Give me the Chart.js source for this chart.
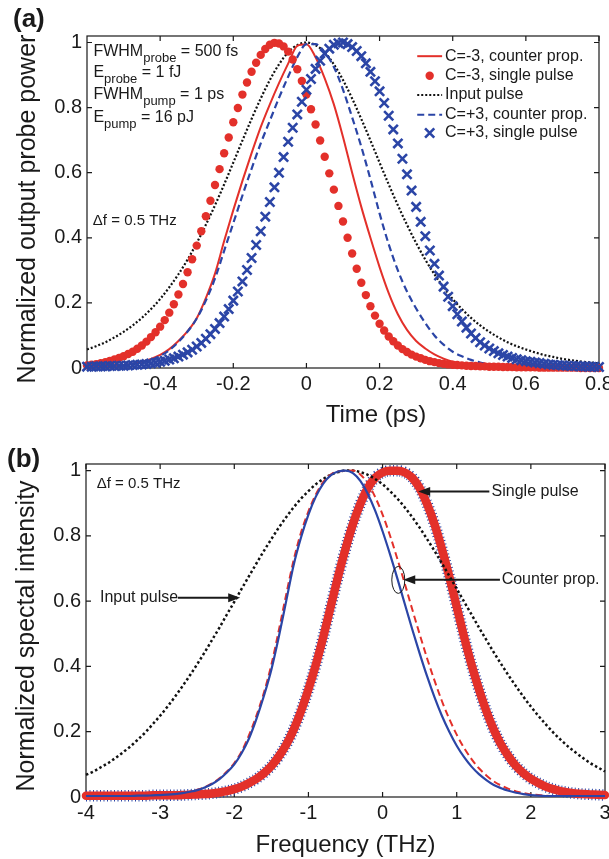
<!DOCTYPE html>
<html lang="en">
<head>
<meta charset="UTF-8">
<title>Probe power and spectra</title>
<script src="https://cdn.jsdelivr.net/npm/chart.js"></script>
<style>
  html, body { margin: 0; padding: 0; background: #fff; overflow: hidden; width: 609px; height: 859px; }
  canvas { position: absolute; left: 0; }
  #chartA { top: 0; }
  #chartB { top: 430px; }
</style>
</head>
<body>
<canvas id="chartA" width="640" height="430"></canvas>
<canvas id="chartB" width="640" height="429"></canvas>
<script>
const FONT = '"Liberation Sans", Arial, Helvetica, sans-serif';
const RED = '#e3302a';
const BLUE = '#2b45a6';
const INK = '#1a1a1a';
Chart.defaults.font.family = FONT;

// ---- panel (a): time in ps ----
const timeTicks = [-0.4, -0.2, 0, 0.2, 0.4, 0.6, 0.8];
const powerTicks = [0, 0.2, 0.4, 0.6, 0.8, 1];

const tLine = [
  -0.6, -0.575, -0.55, -0.525, -0.5, -0.475, -0.45, -0.425,
  -0.4, -0.375, -0.35, -0.325, -0.3, -0.275, -0.25, -0.225,
  -0.2, -0.175, -0.15, -0.125, -0.1, -0.075, -0.05, -0.025,
  0, 0.025, 0.05, 0.075, 0.1, 0.125, 0.15, 0.175,
  0.2, 0.225, 0.25, 0.275, 0.3, 0.325, 0.35, 0.375,
  0.4, 0.425, 0.45, 0.475, 0.5, 0.525, 0.55, 0.575,
  0.6, 0.625, 0.65, 0.675, 0.7, 0.725, 0.75, 0.775, 0.8
];
const inputA = [
  0.057, 0.067, 0.079, 0.094, 0.111, 0.131, 0.154, 0.181,
  0.212, 0.248, 0.288, 0.333, 0.384, 0.440, 0.500, 0.564,
  0.631, 0.699, 0.765, 0.828, 0.885, 0.933, 0.970, 0.992,
  1.000, 0.992, 0.970, 0.933, 0.885, 0.828, 0.765, 0.699,
  0.631, 0.564, 0.500, 0.440, 0.384, 0.333, 0.288, 0.248,
  0.212, 0.181, 0.154, 0.131, 0.111, 0.094, 0.079, 0.067,
  0.057, 0.048, 0.040, 0.034, 0.028, 0.024, 0.020, 0.017, 0.014
];
const redCounterA = [
  0.002, 0.003, 0.004, 0.006, 0.009, 0.013, 0.019, 0.028,
  0.040, 0.058, 0.083, 0.113, 0.153, 0.215, 0.290, 0.390,
  0.485, 0.575, 0.660, 0.740, 0.810, 0.875, 0.935, 0.990,
  0.995, 0.955, 0.890, 0.810, 0.710, 0.600, 0.495, 0.400,
  0.310, 0.230, 0.165, 0.117, 0.083, 0.060, 0.042, 0.029,
  0.019, 0.013, 0.009, 0.006, 0.005, 0.004, 0.003, 0.002,
  0.002, 0.001, 0.001, 0.001, 0, 0, 0, 0, 0
];
const blueCounterA = [
  0.002, 0.003, 0.004, 0.006, 0.008, 0.012, 0.017, 0.025,
  0.037, 0.055, 0.080, 0.112, 0.152, 0.207, 0.275, 0.360,
  0.445, 0.530, 0.612, 0.690, 0.760, 0.830, 0.895, 0.955,
  0.995, 0.995, 0.970, 0.925, 0.855, 0.770, 0.680, 0.580,
  0.475, 0.380, 0.300, 0.235, 0.183, 0.138, 0.100, 0.072,
  0.050, 0.036, 0.025, 0.017, 0.012, 0.009, 0.006, 0.004,
  0.003, 0.002, 0.002, 0.001, 0.001, 0.001, 0, 0, 0
];

const tMark = [
  -0.6, -0.5875, -0.575, -0.5625, -0.55, -0.5375, -0.525, -0.5125,
  -0.5, -0.4875, -0.475, -0.4625, -0.45, -0.4375, -0.425, -0.4125,
  -0.4, -0.3875, -0.375, -0.3625, -0.35, -0.3375, -0.325, -0.3125,
  -0.3, -0.2875, -0.275, -0.2625, -0.25, -0.2375, -0.225, -0.2125,
  -0.2, -0.1875, -0.175, -0.1625, -0.15, -0.1375, -0.125, -0.1125,
  -0.1, -0.0875, -0.075, -0.0625, -0.05, -0.0375, -0.025, -0.0125,
  0, 0.0125, 0.025, 0.0375, 0.05, 0.0625, 0.075, 0.0875,
  0.1, 0.1125, 0.125, 0.1375, 0.15, 0.1625, 0.175, 0.1875,
  0.2, 0.2125, 0.225, 0.2375, 0.25, 0.2625, 0.275, 0.2875,
  0.3, 0.3125, 0.325, 0.3375, 0.35, 0.3625, 0.375, 0.3875,
  0.4, 0.4125, 0.425, 0.4375, 0.45, 0.4625, 0.475, 0.4875,
  0.5, 0.5125, 0.525, 0.5375, 0.55, 0.5625, 0.575, 0.5875,
  0.6, 0.6125, 0.625, 0.6375, 0.65, 0.6625, 0.675, 0.6875,
  0.7, 0.7125, 0.725, 0.7375, 0.75, 0.7625, 0.775, 0.7875,
  0.8
];
const redSingleA = [
  0.008, 0.010, 0.012, 0.015, 0.018, 0.022, 0.026, 0.031,
  0.036, 0.043, 0.050, 0.059, 0.069, 0.081, 0.095, 0.110,
  0.127, 0.147, 0.170, 0.196, 0.226, 0.258, 0.294, 0.334,
  0.376, 0.420, 0.466, 0.514, 0.562, 0.611, 0.660, 0.708,
  0.755, 0.799, 0.840, 0.877, 0.910, 0.938, 0.962, 0.980,
  0.993, 0.999, 0.997, 0.988, 0.972, 0.948, 0.918, 0.882,
  0.840, 0.795, 0.748, 0.699, 0.649, 0.598, 0.548, 0.498,
  0.450, 0.400, 0.352, 0.305, 0.262, 0.224, 0.190, 0.161,
  0.136, 0.115, 0.097, 0.082, 0.069, 0.058, 0.049, 0.041,
  0.035, 0.030, 0.025, 0.021, 0.018, 0.015, 0.013, 0.011,
  0.010, 0.009, 0.008, 0.007, 0.006, 0.006, 0.005, 0.005,
  0.004, 0.004, 0.004, 0.003, 0.003, 0.003, 0.002, 0.002,
  0.002, 0.002, 0.002, 0.001, 0.001, 0.001, 0.001, 0.001,
  0.001, 0.001, 0.001, 0.001, 0, 0, 0, 0,
  0
];
const blueSingleA = [
  0.004, 0.004, 0.005, 0.005, 0.005, 0.006, 0.006, 0.007,
  0.007, 0.008, 0.009, 0.010, 0.011, 0.012, 0.014, 0.016,
  0.019, 0.022, 0.026, 0.030, 0.035, 0.041, 0.048, 0.056,
  0.066, 0.077, 0.090, 0.104, 0.120, 0.138, 0.158, 0.181,
  0.207, 0.235, 0.266, 0.301, 0.338, 0.378, 0.420, 0.465,
  0.510, 0.555, 0.600, 0.648, 0.695, 0.738, 0.779, 0.818,
  0.855, 0.888, 0.919, 0.944, 0.966, 0.981, 0.993, 0.998,
  1.000, 0.995, 0.986, 0.974, 0.958, 0.936, 0.910, 0.881,
  0.850, 0.814, 0.775, 0.733, 0.690, 0.643, 0.595, 0.545,
  0.495, 0.449, 0.405, 0.361, 0.320, 0.284, 0.250, 0.219,
  0.190, 0.165, 0.143, 0.124, 0.106, 0.092, 0.079, 0.069,
  0.060, 0.052, 0.045, 0.040, 0.035, 0.031, 0.027, 0.024,
  0.021, 0.019, 0.017, 0.015, 0.013, 0.011, 0.010, 0.009,
  0.008, 0.007, 0.006, 0.006, 0.005, 0.005, 0.004, 0.004,
  0.003
];

// ---- panel (b): frequency in THz ----
const freqTicks = [-4, -3, -2, -1, 0, 1, 2, 3];
const fGrid = [
  -4, -3.9, -3.8, -3.7, -3.6, -3.5, -3.4, -3.3, -3.2, -3.1,
  -3, -2.9, -2.8, -2.7, -2.6, -2.5, -2.4, -2.3, -2.2, -2.1,
  -2, -1.9, -1.8, -1.7, -1.6, -1.5, -1.4, -1.3, -1.2, -1.1,
  -1, -0.9, -0.8, -0.7, -0.6, -0.5, -0.4, -0.3, -0.2, -0.1,
  0, 0.1, 0.2, 0.3, 0.4, 0.5, 0.6, 0.7, 0.8, 0.9,
  1, 1.1, 1.2, 1.3, 1.4, 1.5, 1.6, 1.7, 1.8, 1.9,
  2, 2.1, 2.2, 2.3, 2.4, 2.5, 2.6, 2.7, 2.8, 2.9,
  3
];
const inputB = [
  0.068, 0.078, 0.091, 0.104, 0.120, 0.137, 0.155, 0.176, 0.198, 0.223,
  0.249, 0.277, 0.307, 0.339, 0.372, 0.407, 0.443, 0.481, 0.519, 0.559,
  0.598, 0.638, 0.677, 0.716, 0.754, 0.790, 0.825, 0.857, 0.887, 0.914,
  0.937, 0.958, 0.974, 0.987, 0.995, 1.000, 1.000, 0.995, 0.987, 0.974,
  0.958, 0.937, 0.914, 0.887, 0.857, 0.825, 0.790, 0.754, 0.716, 0.677,
  0.638, 0.598, 0.559, 0.519, 0.481, 0.443, 0.407, 0.372, 0.339, 0.307,
  0.277, 0.249, 0.223, 0.198, 0.176, 0.155, 0.137, 0.120, 0.104, 0.091,
  0.078
];
const counterBlueB = [
  0.003, 0.003, 0.003, 0.003, 0.003, 0.003, 0.003, 0.004, 0.004, 0.005,
  0.006, 0.007, 0.009, 0.012, 0.016, 0.021, 0.029, 0.040, 0.055, 0.075,
  0.100, 0.135, 0.180, 0.240, 0.310, 0.390, 0.490, 0.600, 0.710, 0.795,
  0.865, 0.920, 0.960, 0.985, 0.997, 1.000, 0.992, 0.968, 0.929, 0.877,
  0.814, 0.744, 0.669, 0.591, 0.514, 0.440, 0.370, 0.306, 0.249, 0.200,
  0.157, 0.122, 0.093, 0.070, 0.052, 0.037, 0.027, 0.019, 0.013, 0.009,
  0.006, 0.004, 0.003, 0.003, 0.003, 0.003, 0.003, 0.003, 0.003, 0.003,
  0.003
];
const counterRedB = [
  0.003, 0.003, 0.003, 0.003, 0.003, 0.003, 0.003, 0.004, 0.004, 0.005,
  0.006, 0.007, 0.009, 0.012, 0.016, 0.022, 0.030, 0.042, 0.057, 0.078,
  0.104, 0.140, 0.190, 0.250, 0.320, 0.405, 0.510, 0.620, 0.725, 0.810,
  0.875, 0.927, 0.965, 0.988, 0.998, 0.999, 1.000, 0.988, 0.961, 0.919,
  0.865, 0.801, 0.729, 0.653, 0.575, 0.499, 0.425, 0.357, 0.294, 0.239,
  0.191, 0.150, 0.116, 0.088, 0.066, 0.048, 0.035, 0.025, 0.017, 0.012,
  0.008, 0.006, 0.004, 0.003, 0.003, 0.003, 0.003, 0.003, 0.003, 0.003,
  0.003
];
const singleB = [
  0.004, 0.004, 0.004, 0.004, 0.004, 0.004, 0.004, 0.004, 0.004, 0.005,
  0.005, 0.005, 0.005, 0.006, 0.007, 0.008, 0.009, 0.011, 0.014, 0.018,
  0.024, 0.032, 0.043, 0.056, 0.073, 0.095, 0.124, 0.160, 0.206, 0.263,
  0.330, 0.405, 0.490, 0.583, 0.675, 0.760, 0.836, 0.898, 0.946, 0.978,
  0.994, 0.999, 0.999, 0.994, 0.978, 0.946, 0.898, 0.836, 0.760, 0.675,
  0.583, 0.490, 0.405, 0.330, 0.263, 0.206, 0.160, 0.124, 0.095, 0.073,
  0.056, 0.043, 0.032, 0.024, 0.018, 0.014, 0.011, 0.009, 0.008, 0.007,
  0.006
];

// ---- text placed in data units ----
const paramLines = [
  [['FWHM'], ['probe', true], [' = 500 fs']],
  [['E'], ['probe', true], [' = 1 fJ']],
  [['FWHM'], ['pump', true], [' = 1 ps']],
  [['E'], ['pump', true], [' = 16 pJ']]
];
const paramX = -0.5825;
const paramY = [0.96, 0.893, 0.825, 0.757];
const legendA = ['C=-3, counter prop.', 'C=-3, single pulse', 'Input pulse', 'C=+3, counter prop.', 'C=+3, single pulse'];
const legendRows = [0.958, 0.898, 0.839, 0.778, 0.722];

const pts = (xs, ys) => xs.map((x, i) => ({ x, y: ys[i] }));

function subText(ctx, x, y, parts) {
  parts.forEach(([s, sub]) => {
    ctx.font = (sub ? '13px ' : '16px ') + FONT;
    ctx.fillText(s, x, sub ? y + 6 : y);
    x += ctx.measureText(s).width;
  });
}

function arrow(ctx, x1, y, x2) {
  const dir = Math.sign(x2 - x1);
  ctx.lineWidth = 2;
  ctx.setLineDash([]);
  ctx.beginPath();
  ctx.moveTo(x1, y);
  ctx.lineTo(x2 - dir * 9, y);
  ctx.stroke();
  ctx.beginPath();
  ctx.moveTo(x2, y);
  ctx.lineTo(x2 - dir * 12, y - 4.5);
  ctx.lineTo(x2 - dir * 12, y + 4.5);
  ctx.closePath();
  ctx.fill();
}

function rotatedTitle(ctx, text, x, y) {
  ctx.save();
  ctx.translate(x, y);
  ctx.rotate(-Math.PI / 2);
  ctx.textAlign = 'center';
  ctx.fillText(text, 0, 0);
  ctx.restore();
}

// matlab style box with inward ticks on all four sides
const boxPlugin = {
  id: 'box',
  beforeDatasetsDraw(chart) {
    const { ctx, chartArea: a, scales: { x, y } } = chart;
    ctx.save();
    ctx.strokeStyle = INK;
    ctx.lineWidth = 1.2;
    ctx.strokeRect(a.left, a.top, a.right - a.left, a.bottom - a.top);
    ctx.beginPath();
    x.ticks.forEach(t => {
      const px = x.getPixelForValue(t.value);
      ctx.moveTo(px, a.bottom); ctx.lineTo(px, a.bottom - 5);
      ctx.moveTo(px, a.top); ctx.lineTo(px, a.top + 5);
    });
    y.ticks.forEach(t => {
      const py = y.getPixelForValue(t.value);
      ctx.moveTo(a.left, py); ctx.lineTo(a.left + 5, py);
      ctx.moveTo(a.right, py); ctx.lineTo(a.right - 5, py);
    });
    ctx.stroke();
    ctx.restore();
  }
};

const decorA = {
  id: 'decorA',
  afterDraw(chart) {
    const { ctx, scales: { x, y } } = chart;
    ctx.save();
    ctx.fillStyle = INK;
    ctx.strokeStyle = INK;
    ctx.textBaseline = 'alphabetic';
    ctx.font = 'bold 26px ' + FONT;
    ctx.fillText('(a)', 13, 27);

    ctx.font = '24px ' + FONT;
    ctx.textAlign = 'center';
    ctx.fillText('Time (ps)', x.getPixelForValue(0.19), 422);
    ctx.font = '25px ' + FONT;
    rotatedTitle(ctx, 'Normalized output probe power', 35, 209);

    ctx.textAlign = 'left';
    paramLines.forEach((parts, i) => subText(ctx, x.getPixelForValue(paramX), y.getPixelForValue(paramY[i]), parts));
    ctx.font = '15px ' + FONT;
    ctx.fillText('\u0394f = 0.5 THz', x.getPixelForValue(-0.584), y.getPixelForValue(0.439));

    // legend
    const x0 = x.getPixelForValue(0.303), x1 = x.getPixelForValue(0.371), xt = x.getPixelForValue(0.379);
    const xm = (x0 + x1) / 2;
    const ry = legendRows.map(v => y.getPixelForValue(v));
    ctx.lineWidth = 2;
    ctx.strokeStyle = RED;
    ctx.beginPath(); ctx.moveTo(x0, ry[0]); ctx.lineTo(x1, ry[0]); ctx.stroke();
    ctx.fillStyle = RED;
    ctx.beginPath(); ctx.arc(xm, ry[1], 4.2, 0, Math.PI * 2); ctx.fill();
    ctx.strokeStyle = '#111';
    ctx.setLineDash([2, 2]);
    ctx.beginPath(); ctx.moveTo(x0, ry[2]); ctx.lineTo(x1, ry[2]); ctx.stroke();
    ctx.strokeStyle = BLUE;
    ctx.setLineDash([7, 4]);
    ctx.beginPath(); ctx.moveTo(x0, ry[3]); ctx.lineTo(x1, ry[3]); ctx.stroke();
    ctx.setLineDash([]);
    ctx.lineWidth = 2.6;
    const h = 4.6;
    ctx.beginPath();
    ctx.moveTo(xm - h, ry[4] - h); ctx.lineTo(xm + h, ry[4] + h);
    ctx.moveTo(xm + h, ry[4] - h); ctx.lineTo(xm - h, ry[4] + h);
    ctx.stroke();
    ctx.fillStyle = INK;
    ctx.font = '16px ' + FONT;
    ctx.textBaseline = 'middle';
    legendA.forEach((s, i) => ctx.fillText(s, xt, ry[i]));
    ctx.restore();
  }
};

const decorB = {
  id: 'decorB',
  afterDraw(chart) {
    const { ctx, chartArea: a, scales: { x, y } } = chart;
    ctx.save();
    ctx.fillStyle = INK;
    ctx.strokeStyle = INK;
    ctx.textBaseline = 'alphabetic';
    ctx.font = 'bold 26px ' + FONT;
    ctx.fillText('(b)', 7, 37);

    ctx.font = '24px ' + FONT;
    ctx.textAlign = 'center';
    ctx.fillText('Frequency (THz)', (a.left + a.right) / 2, 422);
    ctx.font = '25px ' + FONT;
    rotatedTitle(ctx, 'Normalized spectal intensity', 34, 206);

    ctx.textAlign = 'left';
    ctx.font = '15px ' + FONT;
    ctx.fillText('\u0394f = 0.5 THz', x.getPixelForValue(-3.856), y.getPixelForValue(0.948));

    ctx.font = '16px ' + FONT;
    ctx.textBaseline = 'middle';
    const yIn = y.getPixelForValue(0.61);
    ctx.fillText('Input pulse', x.getPixelForValue(-3.812), yIn);
    arrow(ctx, x.getPixelForValue(-2.76), yIn, x.getPixelForValue(-1.92));

    const ySp = y.getPixelForValue(0.936);
    ctx.fillText('Single pulse', x.getPixelForValue(1.47), ySp);
    arrow(ctx, x.getPixelForValue(1.44), ySp, x.getPixelForValue(0.48));

    const yCp = y.getPixelForValue(0.6656);
    ctx.fillText('Counter prop.', x.getPixelForValue(1.606), yCp);
    arrow(ctx, x.getPixelForValue(1.583), yCp, x.getPixelForValue(0.279));
    ctx.lineWidth = 1;
    ctx.beginPath();
    ctx.ellipse(x.getPixelForValue(0.212), y.getPixelForValue(0.665), 6.5, 13.5, 0, 0, Math.PI * 2);
    ctx.stroke();
    ctx.restore();
  }
};

function axes(xMin, xMax, xTicks, xHeight, yWidth) {
  const tickFont = { size: 20 };
  return {
    x: {
      type: 'linear', min: xMin, max: xMax,
      afterBuildTicks: s => { s.ticks = xTicks.map(v => ({ value: v })); },
      afterFit: s => { s.height = xHeight; },
      grid: { display: false, drawTicks: false },
      border: { display: false },
      ticks: { font: tickFont, color: INK, padding: 4, maxRotation: 0, autoSkip: false, callback: v => String(v) }
    },
    y: {
      type: 'linear', min: 0, max: 1.02,
      afterBuildTicks: s => { s.ticks = powerTicks.map(v => ({ value: v })); },
      afterFit: s => { s.width = yWidth; },
      grid: { display: false, drawTicks: false },
      border: { display: false },
      ticks: { font: tickFont, color: INK, padding: 5, callback: v => String(v) }
    }
  };
}

const common = {
  responsive: false,
  animation: false,
  devicePixelRatio: 1,
  plugins: { legend: { display: false }, tooltip: { enabled: false } }
};

new Chart(document.getElementById('chartA'), {
  type: 'line',
  data: {
    datasets: [
      { label: 'C=+3, single pulse', data: pts(tMark, blueSingleA), showLine: false, clip: 8,
        pointStyle: 'crossRot', pointRadius: 6.5, pointBorderWidth: 2.6, pointBorderColor: BLUE, pointBackgroundColor: BLUE, order: 1 },
      { label: 'C=-3, single pulse', data: pts(tMark, redSingleA), showLine: false, clip: 8,
        pointStyle: 'circle', pointRadius: 4.2, pointBorderWidth: 0, pointBackgroundColor: RED, pointBorderColor: RED, order: 2 },
      { label: 'C=+3, counter prop.', data: pts(tLine, blueCounterA), borderColor: BLUE, borderWidth: 2.2, borderDash: [7, 4],
        pointRadius: 0, cubicInterpolationMode: 'monotone', clip: 8, order: 3 },
      { label: 'C=-3, counter prop.', data: pts(tLine, redCounterA), borderColor: RED, borderWidth: 2,
        pointRadius: 0, cubicInterpolationMode: 'monotone', clip: 8, order: 4 },
      { label: 'Input pulse', data: pts(tLine, inputA), borderColor: '#111', borderWidth: 2.2, borderDash: [2, 2],
        pointRadius: 0, cubicInterpolationMode: 'monotone', clip: 8, order: 5 }
    ]
  },
  options: Object.assign({}, common, {
    layout: { padding: { top: 36, right: 41, left: 0, bottom: 0 } },
    scales: axes(-0.6, 0.8, timeTicks, 62, 87)
  }),
  plugins: [boxPlugin, decorA]
});

new Chart(document.getElementById('chartB'), {
  type: 'line',
  data: {
    datasets: [
      { label: 'Counter prop. (blue)', data: pts(fGrid, counterBlueB), borderColor: BLUE, borderWidth: 2.2,
        pointRadius: 0, cubicInterpolationMode: 'monotone', clip: 8, order: 1 },
      { label: 'Counter prop. (red)', data: pts(fGrid, counterRedB), borderColor: RED, borderWidth: 2, borderDash: [7, 4],
        pointRadius: 0, cubicInterpolationMode: 'monotone', clip: 8, order: 2 },
      { label: 'Input pulse', data: pts(fGrid, inputB), borderColor: '#111', borderWidth: 2.5, borderDash: [2.5, 2.5],
        pointRadius: 0, cubicInterpolationMode: 'monotone', clip: 8, order: 3 },
      { label: 'Single pulse (C=-3)', data: pts(fGrid, singleB), borderColor: RED, borderWidth: 8.5,
        borderCapStyle: 'round', borderJoinStyle: 'round',
        pointRadius: 0, cubicInterpolationMode: 'monotone', clip: 8, order: 4 },
      { label: 'Single pulse (C=+3)', data: pts(fGrid, singleB), borderColor: BLUE, borderWidth: 11.5, borderDash: [1, 2.5],
        pointRadius: 0, cubicInterpolationMode: 'monotone', clip: 8, order: 5 }
    ]
  },
  options: Object.assign({}, common, {
    layout: { padding: { top: 34, right: 35, left: 0, bottom: 0 } },
    scales: axes(-4, 3, freqTicks, 62, 86)
  }),
  plugins: [boxPlugin, decorB]
});
</script>
</body>
</html>
